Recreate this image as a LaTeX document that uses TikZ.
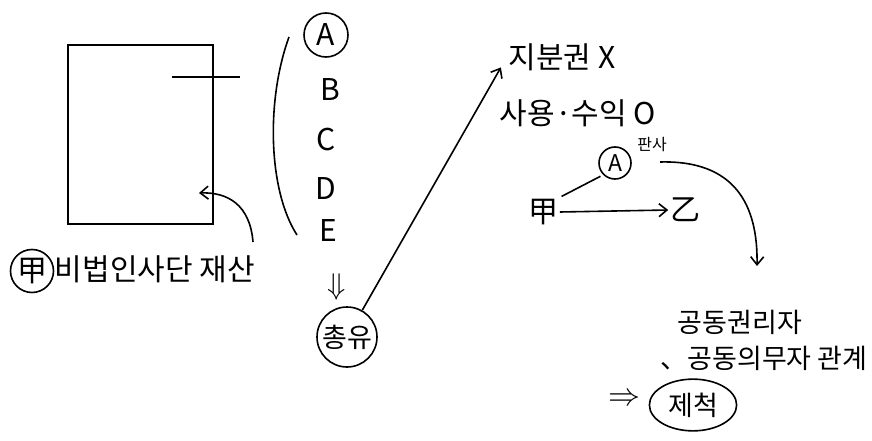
\documentclass[tikz,border=0pt]{standalone}
\usepackage{graphicx}
\usepackage{fontspec}
\setmainfont{Noto Sans CJK KR}
\usetikzlibrary{arrows.meta,positioning,calc,shapes.geometric}

\tikzset{
  circ/.style={draw,circle,inner sep=0pt},
  arr/.style={-{Straight Barb[length=8pt,width=13pt]}},
  big/.style={font=\fontsize{30}{33}\selectfont},
  mid/.style={font=\fontsize{27}{30}\selectfont}
}

\begin{document}
\begin{tikzpicture}[x=1pt,y=-1pt,line width=1.6pt,every node/.style={inner sep=1pt}]
  \useasboundingbox (0,0) rectangle (872,441);

  % property of the association
  \draw (68,45) rectangle (213,224);
  \draw (172,77) -- (240,77);
  \node[circ,big,minimum size=43pt] (gap) at (32,271) {甲};
  \node[big,anchor=west] (jaesan) at (53,269) {비법인사단 재산};
  \coordinate (from) at (253,242);
  \coordinate (box) at (199,193);
  \draw[arr] (from) .. controls (250,205) and (228,192) .. (box);

  % members
  \draw (289,37) .. controls (266,100) and (268,190) .. (297,235);
  \node[circ,big,minimum size=44pt] (ma) at (326,35) {A};
  \node[big] (mb) at (330,90) {B};
  \node[big] (mc) at (326,140) {C};
  \node[big] (md) at (326,189) {D};
  \node[big] (me) at (328,231) {E};
  \node (down) at (337,287) {\scalebox{3}{$\Downarrow$}};
  \node[circ,mid,minimum size=60pt] (chongyu) at (347,337) {총유};

  % rights
  \node[big] (jibun) at (562,57) {지분권 X};
  \node[big] (sayong) at (578,113) {사용·수익 O};
  \draw[arr,shorten >=12pt] (chongyu) -- (jibun.west);

  % sale
  \node[circ,font=\fontsize{23}{25}\selectfont,minimum size=32pt] (sa) at (615,163) {A};
  \node[font=\fontsize{16}{18}\selectfont] (pansa) at (652,145) {판사};
  \node[big] (gap2) at (543,212) {甲};
  \node[big] (eul) at (685,210) {乙};
  \draw[shorten <=2pt,shorten >=3pt] (gap2.north east) -- (sa.south west);
  \draw[arr] (gap2.east) -- (eul.west);
  \coordinate (curve) at (660,162);
  \draw[arr] (curve) .. controls (735,160) and (758,205) .. (757,266);

  % result
  \node[mid] (kwon) at (740,322) {공동권리자};
  \node[mid] (uimu) at (764,358) {、공동의무자 관계};
  \node (then) at (624,400) {\scalebox{3.2}{$\Rightarrow$}};
  \node[draw,ellipse,mid,inner sep=6pt] (jecheok) at (693,405) {제척};
\end{tikzpicture}
\end{document}
